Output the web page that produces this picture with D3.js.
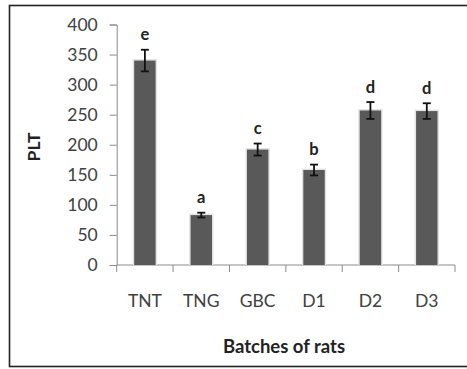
<!DOCTYPE html>
<html>
<head>
<meta charset="utf-8">
<script src="https://cdn.jsdelivr.net/npm/d3@7"></script>
<style>
  body { margin: 0; background: #fff; }
  text { font-family: Lato, "Open Sans", sans-serif; }
</style>
</head>
<body>
<div class="chart"></div>
<script>
// data
const batches = ['TNT', 'TNG', 'GBC', 'D1', 'D2', 'D3'];
const plt = [340, 83, 192, 158, 257, 256];
const errs = [18, 4, 10, 9, 14, 13];
const letters = ['e', 'a', 'c', 'b', 'd', 'd'];
const yTicks = [0, 50, 100, 150, 200, 250, 300, 350, 400];

const width = 467;
const height = 369;

const svg = d3.select('.chart')
    .append('svg')
    .attr('width', width)
    .attr('height', height);

// outer frame (right edge is cut off in the original)
svg.append('rect')
    .attr('x', 9.5)
    .attr('y', 5.5)
    .attr('width', 470)
    .attr('height', 361)
    .attr('fill', 'none')
    .attr('stroke', '#222')
    .attr('stroke-width', 1.6);

const x = d3.scaleBand()
    .domain(batches)
    .range([116.7, 455])
    .paddingInner(0.62)
    .paddingOuter(0.31);

const y = d3.scaleLinear()
    .domain([0, 400])
    .range([265, 24.5]);

// y axis
const yAxis = svg.append('g')
    .attr('transform', 'translate(116.7,0)')
    .call(d3.axisLeft(y).tickValues(yTicks).tickSize(7).tickPadding(12));
yAxis.select('.domain').attr('stroke', '#8c8c8c');
yAxis.selectAll('.tick line').attr('stroke', '#8c8c8c');
yAxis.selectAll('.tick text')
    .attr('font-size', 17.5)
    .attr('fill', '#404040')
    .attr('font-family', 'Lato, sans-serif');

// x axis: ticks between categories
const xAxisG = svg.append('g');
xAxisG.append('line')
    .attr('x1', 116.7).attr('x2', 455)
    .attr('y1', y(0)).attr('y2', y(0))
    .attr('stroke', '#8c8c8c');
const edges = d3.range(batches.length + 1).map(i => 116.7 + i * (455 - 116.7) / batches.length);
xAxisG.selectAll('.xt')
    .data(edges)
    .enter()
    .append('line')
    .attr('x1', d => d).attr('x2', d => d)
    .attr('y1', y(0)).attr('y2', y(0) + 7)
    .attr('stroke', '#8c8c8c');

xAxisG.selectAll('.xl')
    .data(batches)
    .enter()
    .append('text')
    .text(d => d)
    .attr('x', d => x(d) + x.bandwidth() / 2)
    .attr('y', 307)
    .attr('text-anchor', 'middle')
    .attr('font-size', 17.5)
    .attr('fill', '#404040');

// bars with faint halo
const data = batches.map((b, i) => ({b: b, v: plt[i], e: errs[i], l: letters[i]}));

svg.selectAll('.halo')
    .data(data)
    .enter()
    .append('rect')
    .attr('x', d => x(d.b) - 1.5)
    .attr('y', d => y(d.v) - 1.5)
    .attr('width', x.bandwidth() + 3)
    .attr('height', d => y(0) - y(d.v) + 1.5)
    .attr('fill', '#e4e4e4');

svg.selectAll('.bar')
    .data(data)
    .enter()
    .append('rect')
    .attr('x', d => x(d.b))
    .attr('y', d => y(d.v))
    .attr('width', x.bandwidth())
    .attr('height', d => y(0) - y(d.v))
    .attr('fill', '#595959');

// error bars
const eb = svg.selectAll('.err')
    .data(data)
    .enter()
    .append('g')
    .attr('stroke', '#111')
    .attr('stroke-width', 1.8);
eb.append('line')
    .attr('x1', d => x(d.b) + x.bandwidth() / 2)
    .attr('x2', d => x(d.b) + x.bandwidth() / 2)
    .attr('y1', d => y(d.v + d.e))
    .attr('y2', d => y(d.v - d.e));
eb.append('line')
    .attr('x1', d => x(d.b) + x.bandwidth() / 2 - 4)
    .attr('x2', d => x(d.b) + x.bandwidth() / 2 + 4)
    .attr('y1', d => y(d.v + d.e))
    .attr('y2', d => y(d.v + d.e));
eb.append('line')
    .attr('x1', d => x(d.b) + x.bandwidth() / 2 - 4)
    .attr('x2', d => x(d.b) + x.bandwidth() / 2 + 4)
    .attr('y1', d => y(d.v - d.e))
    .attr('y2', d => y(d.v - d.e));

// significance letters
svg.selectAll('.lett')
    .data(data)
    .enter()
    .append('text')
    .text(d => d.l)
    .attr('x', d => x(d.b) + x.bandwidth() / 2)
    .attr('y', d => y(d.v + d.e) - 9.5)
    .attr('text-anchor', 'middle')
    .attr('font-size', 16.5)
    .attr('font-weight', 'bold')
    .attr('fill', '#222');

// axis titles
svg.append('text')
    .text('Batches of rats')
    .attr('x', 284)
    .attr('y', 353)
    .attr('text-anchor', 'middle')
    .attr('font-size', 18.5)
    .attr('font-weight', 'bold')
    .attr('fill', '#222');

svg.append('text')
    .text('PLT')
    .attr('transform', 'translate(40,147) rotate(-90)')
    .attr('text-anchor', 'middle')
    .attr('font-size', 17.5)
    .attr('font-weight', 'bold')
    .attr('fill', '#222');
</script>
</body>
</html>
